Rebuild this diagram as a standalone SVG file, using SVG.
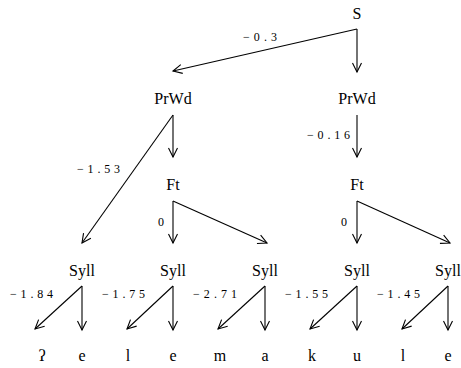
<svg xmlns="http://www.w3.org/2000/svg" width="461" height="368" viewBox="0 0 461 368">
<style>
.n{font-family:'Liberation Serif','Times New Roman','DejaVu Serif',serif;font-size:16px;text-anchor:middle;fill:#000}
.w{font-family:'Liberation Serif','Times New Roman','DejaVu Serif',serif;font-size:12px;fill:#000}
.e{stroke:#000;stroke-width:1.1;fill:none;marker-end:url(#a)}
</style>
<defs>
<marker id="a" markerUnits="userSpaceOnUse" markerWidth="12" markerHeight="12" viewBox="-10 -6 12 12" refX="0" refY="0" orient="auto">
<path d="M-9,-4.5 L0,0 L-9,4.5" fill="none" stroke="#000" stroke-width="1.1"/>
</marker>
</defs>
<rect width="461" height="368" fill="#fff"/>
<g id="nodes">
<g id="S"><text class="n" x="357" y="19">S</text></g>
<g id="PrWd1"><text class="n" x="173" y="104">PrWd</text></g>
<g id="PrWd2"><text class="n" x="357" y="104">PrWd</text></g>
<g id="Ft1"><text class="n" x="173" y="190">Ft</text></g>
<g id="Ft2"><text class="n" x="357" y="190">Ft</text></g>
<g id="Syll1"><text class="n" x="82" y="276">Syll</text></g>
<g id="Syll2"><text class="n" x="173" y="276">Syll</text></g>
<g id="Syll3"><text class="n" x="265" y="276">Syll</text></g>
<g id="Syll4"><text class="n" x="357" y="276">Syll</text></g>
<g id="Syll5"><text class="n" x="448" y="276">Syll</text></g>
<g id="seg1"><text class="n" x="42" y="361">ʔ</text></g>
<g id="seg2"><text class="n" x="82" y="361">e</text></g>
<g id="seg3"><text class="n" x="128" y="361">l</text></g>
<g id="seg4"><text class="n" x="173" y="361">e</text></g>
<g id="seg5"><text class="n" x="220" y="361">m</text></g>
<g id="seg6"><text class="n" x="265" y="361">a</text></g>
<g id="seg7"><text class="n" x="312" y="361">k</text></g>
<g id="seg8"><text class="n" x="357" y="361">u</text></g>
<g id="seg9"><text class="n" x="403" y="361">l</text></g>
<g id="seg10"><text class="n" x="448" y="361">e</text></g>
</g>
<g id="connectors">
<path class="e" d="M357,29 L173,71"/>
<path class="e" d="M357,29 L357,72"/>
<path class="e" d="M173,115 L173,157"/>
<path class="e" d="M173,115 L82,243"/>
<path class="e" d="M357,115 L357,157"/>
<path class="e" d="M173,201 L173,243"/>
<path class="e" d="M173,201 L267,243"/>
<path class="e" d="M357,201 L357,243"/>
<path class="e" d="M357,201 L450,243"/>
<path class="e" d="M82,286 L82,330"/>
<path class="e" d="M82,286 L35,329"/>
<path class="e" d="M173,286 L173,330"/>
<path class="e" d="M173,286 L127,329"/>
<path class="e" d="M265,286 L265,330"/>
<path class="e" d="M265,286 L218,329"/>
<path class="e" d="M357,286 L357,330"/>
<path class="e" d="M357,286 L310,329"/>
<path class="e" d="M448,286 L448,330"/>
<path class="e" d="M448,286 L402,329"/>
<text class="w" x="243" y="41" textLength="34" lengthAdjust="spacing">−0.3</text>
<text class="w" x="77" y="173" textLength="43" lengthAdjust="spacing">−1.53</text>
<text class="w" x="307" y="139" textLength="43" lengthAdjust="spacing">−0.16</text>
<text class="w" x="158" y="226">0</text>
<text class="w" x="341" y="226">0</text>
<text class="w" x="10" y="298" textLength="43" lengthAdjust="spacing">−1.84</text>
<text class="w" x="102" y="298" textLength="43" lengthAdjust="spacing">−1.75</text>
<text class="w" x="193" y="298" textLength="44" lengthAdjust="spacing">−2.71</text>
<text class="w" x="285" y="298" textLength="43" lengthAdjust="spacing">−1.55</text>
<text class="w" x="377" y="298" textLength="43" lengthAdjust="spacing">−1.45</text>
</g>
</svg>
